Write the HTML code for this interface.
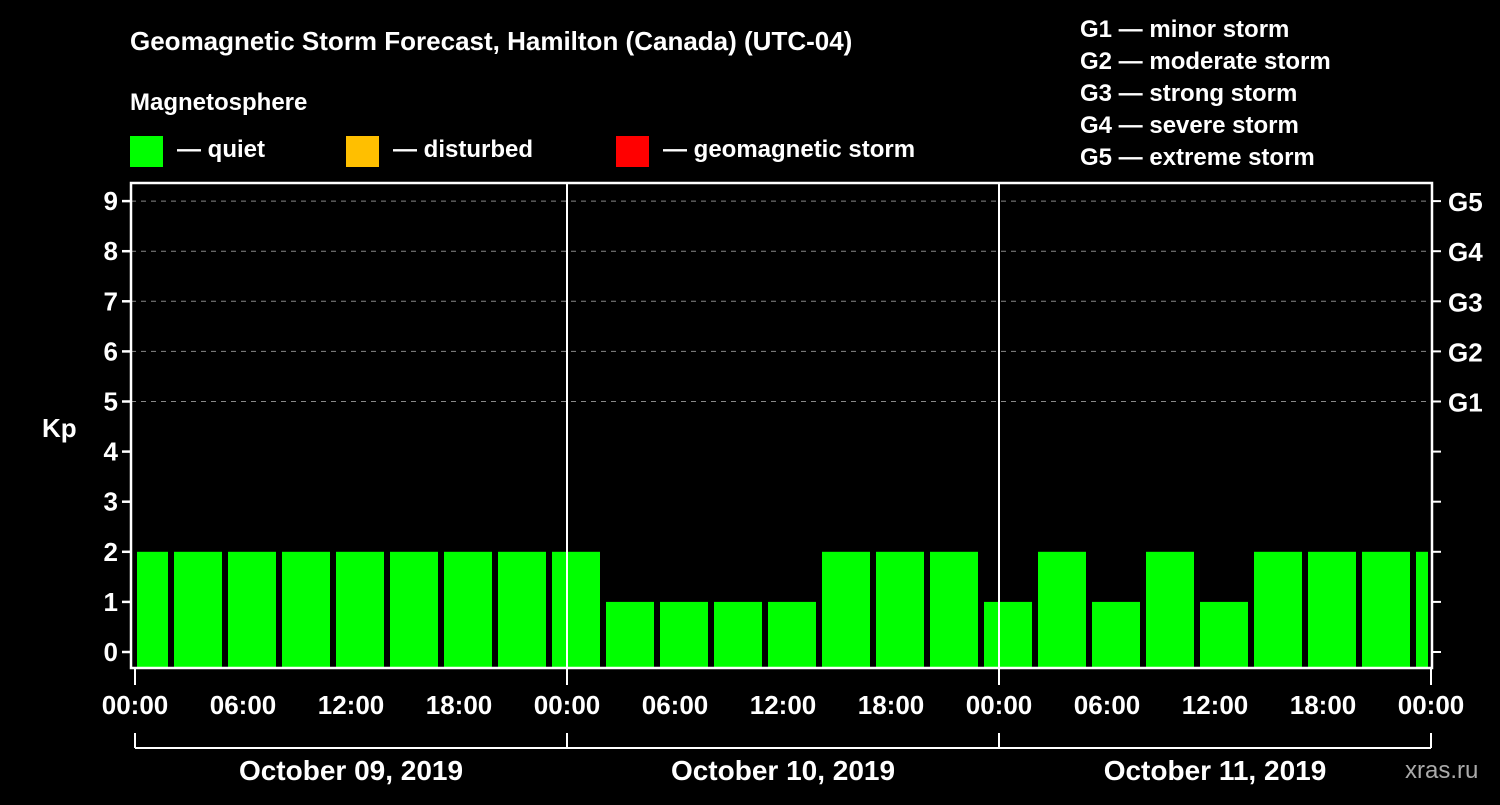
<!DOCTYPE html>
<html><head><meta charset="utf-8"><style>
body{margin:0;background:#000;width:1500px;height:800px;overflow:hidden}
svg text{font-family:"Liberation Sans",Arial,sans-serif;font-weight:bold;fill:#fff}
</style></head><body>
<svg id="c" width="1500" height="800">
<text x="130" y="50" font-size="26">Geomagnetic Storm Forecast, Hamilton (Canada) (UTC-04)</text>
<text x="130" y="110" font-size="24">Magnetosphere</text>
<rect x="130" y="136" width="33" height="31" fill="#00ff00"/>
<text x="177" y="157" font-size="24">— quiet</text>
<rect x="346" y="136" width="33" height="31" fill="#ffbf00"/>
<text x="393" y="157" font-size="24">— disturbed</text>
<rect x="616" y="136" width="33" height="31" fill="#ff0000"/>
<text x="663" y="157" font-size="24">— geomagnetic storm</text>
<g font-size="24">
<text x="1080" y="37">G1 — minor storm</text>
<text x="1080" y="69">G2 — moderate storm</text>
<text x="1080" y="101">G3 — strong storm</text>
<text x="1080" y="133">G4 — severe storm</text>
<text x="1080" y="165">G5 — extreme storm</text>
</g>
<text x="42" y="437" font-size="26">Kp</text>
<text x="1405" y="778" font-size="24" fill="#aaa" style="fill:#aaa;font-weight:normal">xras.ru</text>
<g id="grid"></g><g id="bars"></g><g id="axes"></g>
</svg>
<script>
const kpValues=[2,2,2,2,2,2,2,2,2,1,1,1,1,2,2,2,1,2,1,2,1,2,2,2,2];
const barStartHours=[-1,2,5,8,11,14,17,20,23,26,29,32,35,38,41,44,47,50,53,56,59,62,65,68,71];
const dayLabels=["October 09, 2019","October 10, 2019","October 11, 2019"];
const timeLabels=["00:00","06:00","12:00","18:00"];
const gLabels=["G1","G2","G3","G4","G5"];
const ns="http://www.w3.org/2000/svg";
const X0=135,PX_H=18,Y0=652,PX_K=50.1,L=131,R=1432,T=183,B=668;
const x=h=>X0+h*PX_H, y=k=>Y0-k*PX_K;
function mk(t,a,p){const e=document.createElementNS(ns,t);for(const k in a)e.setAttribute(k,a[k]);p.appendChild(e);return e;}
const grid=document.getElementById('grid'),bars=document.getElementById('bars'),ax=document.getElementById('axes');
for(let k=5;k<=9;k++){const l=mk('line',{x1:L,x2:R,y1:y(k),y2:y(k),stroke:'#888','stroke-dasharray':'5,5','stroke-width':1},grid);

}
kpValues.forEach((v,i)=>{let a=Math.max(x(barStartHours[i])+3,x(0)+2),b=Math.min(x(barStartHours[i]+3)-3,R-4);
const r=mk('rect',{x:a,y:y(v),width:b-a,height:B-y(v),fill:'#00ff00'},bars);

});
mk('rect',{x:L,y:T,width:R-L,height:B-T,fill:'none',stroke:'#fff','stroke-width':2.5},ax);
[1,2].forEach(d=>{const l=mk('line',{x1:x(24*d),x2:x(24*d),y1:T,y2:B,stroke:'#fff','stroke-width':2},ax);

});
for(let k=0;k<=9;k++){
mk('line',{x1:L-9,x2:L,y1:y(k),y2:y(k),stroke:'#fff','stroke-width':2.5},ax);
mk('line',{x1:R,x2:R+9,y1:y(k),y2:y(k),stroke:'#fff','stroke-width':2},ax);
const t=mk('text',{x:L-13,y:y(k)+9,'font-size':26,'text-anchor':'end'},ax);t.textContent=k;

}
gLabels.forEach((g,i)=>{const t=mk('text',{x:1448,y:y(5+i)+10,'font-size':26},ax);t.textContent=g;

});
for(let h=0;h<=72;h+=6){const t=mk('text',{x:x(h),y:714,'font-size':26,'text-anchor':'middle'},ax);t.textContent=timeLabels[(h/6)%4];


if(h%24==0)mk('line',{x1:x(h),x2:x(h),y1:B,y2:685,stroke:'#fff','stroke-width':2},ax);}
mk('line',{x1:x(0),x2:x(72),y1:748,y2:748,stroke:'#fff','stroke-width':2},ax);
for(let d=0;d<=3;d++)mk('line',{x1:x(24*d),x2:x(24*d),y1:733,y2:748,stroke:'#fff','stroke-width':2},ax);
dayLabels.forEach((s,i)=>{const t=mk('text',{x:x(24*i+12),y:780,'font-size':28,'text-anchor':'middle'},ax);t.textContent=s;

});
</script>
</body></html>
